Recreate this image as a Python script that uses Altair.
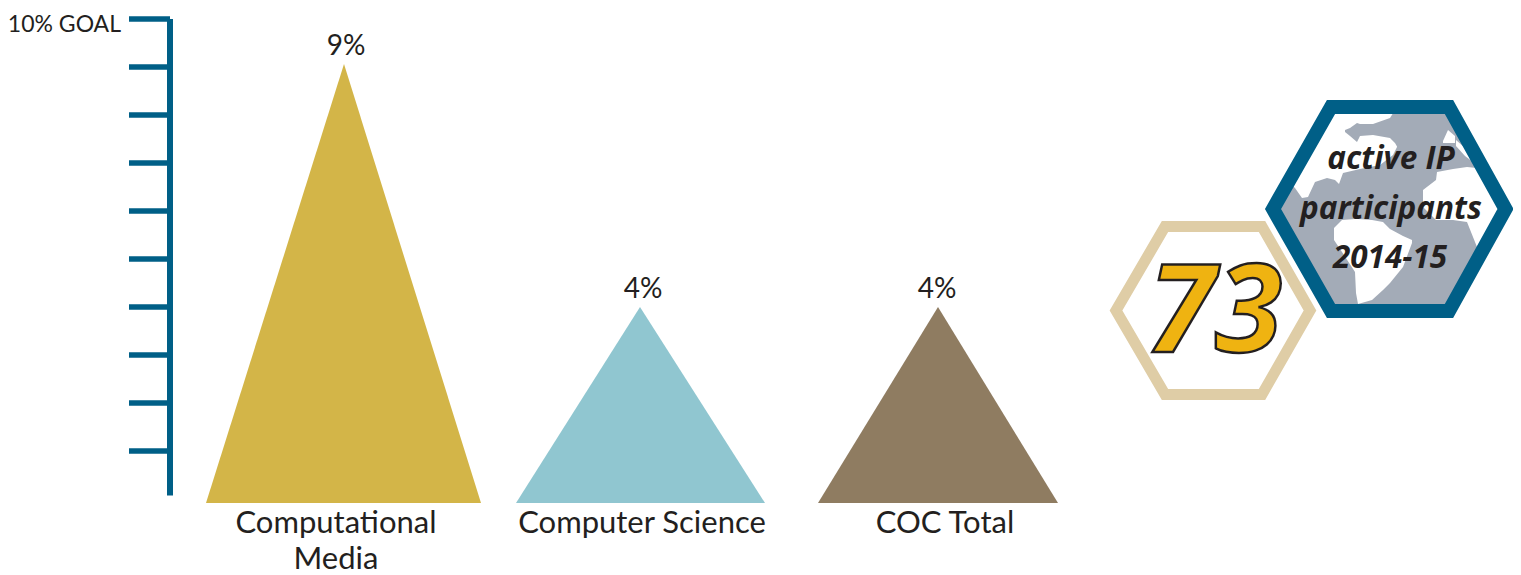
import altair as alt
import pandas as pd

W, H = 1505, 567
TOP, LEFT = 8, 8
FONT = "Lato"
HFONT = "Open Sans"
INK = "#231F20"

# ---- triangles
categories = ["Computational Media", "Computer Science", "COC Total"]
values = [9.06, 4.0, 4.0]
base_value = -0.083
tri_left = [206, 516, 818]
tri_mid = [344, 640, 938]
tri_right = [481, 765, 1058]
tri_colors = ["#D3B548", "#90C6D0", "#8F7C61"]
value_labels = ["9%", "4%", "4%"]
value_label_x = [346, 643, 937]

# ---- axis
tick_values = [1, 2, 3, 4, 5, 6, 7, 8, 9, 10]
axis_color = "#005F87"

# ---- text labels
cat_text = ["Computational", "Media", "Computer Science", "COC Total"]
cat_x = [336, 336, 642, 945]
cat_y = [533, 569, 533, 533]

# ---- badges (drawn on a second y scale in picture units)
blue_x = [1390, 1449, 1505.5, 1449, 1331, 1273, 1331, 1390]
blue_y = [107, 107, 209, 311, 311, 209, 107, 107]
tan_x = [1213, 1262, 1310, 1262, 1165, 1116, 1165, 1213]
tan_y = [226.5, 226.5, 310.5, 394.5, 394.5, 310.5, 226.5, 226.5]

sea_x = [1273, 1331, 1449, 1505.5]
sea_top = [209, 107, 107, 209]
sea_bot = [209, 311, 311, 209]

land = {
    "north_america": ([1289, 1295, 1302, 1308, 1315, 1327, 1335, 1339, 1343, 1360, 1380, 1393, 1397],
                      [180, 170, 158, 148, 135, 114, 110, 110, 110, 110, 110, 110, 110],
                      [182, 188, 198, 197, 182, 178, 180, 184, 173, 169, 165, 155, 147]),
    "south_america": ([1334, 1342, 1355, 1356, 1358, 1372, 1383, 1390, 1403, 1412],
                      [228, 220, 219, 219, 219, 220, 222, 229, 236, 240],
                      [240, 252, 272, 293, 304, 300, 290, 283, 267, 243]),
    "africa": ([1423, 1436, 1437, 1453, 1467, 1477, 1482, 1505],
               [190, 180, 172, 169, 167, 168, 171, 209],
               [207, 220, 220, 220, 222, 247, 250, 209]),
    "britain": ([1443, 1448, 1455],
                [141, 130, 136],
                [143, 143, 143]),
    "europe": ([1456, 1465, 1473],
               [140, 148, 161],
               [146, 156, 162]),
}
arctic_x = [1345, 1350, 1357, 1360, 1373, 1390, 1395, 1399]
arctic_top = [130, 128, 123, 124, 124, 118, 110, 110]
arctic_bot = [132, 136, 142, 136, 135, 138, 143, 150]

badge_text = ["active IP", "participants", "2014-15"]
badge_x = [1391, 1391, 1390]
badge_y = [169, 219, 268]
number_text = ["73"]
number_x = [1215]
number_y = [352]

x_scale = alt.Scale(domain=[LEFT, LEFT + W], range=[0, W], nice=False, zero=False)
pct_scale = alt.Scale(domain=[10 - (TOP + H - 19) / 48, 10 + (19 - TOP) / 48],
                      range=[H, 0], nice=False, zero=False)
px_scale = alt.Scale(domain=[TOP + H, TOP], range=[H, 0], nice=False, zero=False)

X = lambda f: alt.X(f, type="quantitative", scale=x_scale, axis=None)
Ypct = lambda f: alt.Y(f, type="quantitative", scale=pct_scale, axis=None, stack=None)
Ypx = lambda f: alt.Y(f, type="quantitative", scale=px_scale, axis=None, stack=None)

# triangles
tri_rows = []
for c, v, l, m, r in zip(categories, values, tri_left, tri_mid, tri_right):
    tri_rows += [
        {"cat": c, "x": l, "v": base_value, "b": base_value},
        {"cat": c, "x": m, "v": v, "b": base_value},
        {"cat": c, "x": r, "v": base_value, "b": base_value},
    ]
tri = alt.Chart(pd.DataFrame(tri_rows)).mark_area(interpolate="linear", line=False, opacity=1).encode(
    x=X("x"), y=Ypct("v"), y2="b:Q",
    color=alt.Color("cat:N", scale=alt.Scale(domain=categories, range=tri_colors), legend=None),
)
val_df = pd.DataFrame({"x": value_label_x, "v": values, "t": value_labels})
val_text = alt.Chart(val_df).mark_text(font=FONT, fontSize=28, color=INK, dy=-9, baseline="alphabetic", align="center").encode(
    x=X("x"), y=Ypct("v"), text="t:N")

ticks = alt.Chart(pd.DataFrame({"v": tick_values, "x1": [129] * 10, "x2": [170] * 10})).mark_rule(
    color=axis_color, strokeWidth=5.5).encode(x=X("x1"), x2="x2:Q", y=Ypct("v"))
spine = alt.Chart(pd.DataFrame({"x": [170], "v1": [10.0], "v2": [0.075]})).mark_rule(
    color=axis_color, strokeWidth=6).encode(x=X("x"), y=Ypct("v1"), y2="v2:Q")
goal = alt.Chart(pd.DataFrame({"x": [121], "v": [10.0], "t": ["10% GOAL"]})).mark_text(
    font=FONT, fontSize=23, color=INK, align="right", baseline="alphabetic", dy=13).encode(
    x=X("x"), y=Ypct("v"), text="t:N")

pct_layer = alt.layer(tri, ticks, spine, goal, val_text)

# picture-unit layers
cat_df = pd.DataFrame({"x": cat_x, "y": cat_y, "t": cat_text})
cat_marks = alt.Chart(cat_df).mark_text(font=FONT, fontSize=31, color=INK, align="center", baseline="alphabetic").encode(
    x=X("x"), y=Ypx("y"), text="t:N")

def band(xs, top, bot, color):
    d = pd.DataFrame({"x": xs, "t": top, "b": bot})
    return alt.Chart(d).mark_area(color=color, interpolate="linear", opacity=1).encode(
        x=X("x"), y=Ypx("t"), y2="b:Q")

def outline(xs, ys, color, width):
    d = pd.DataFrame({"x": xs, "y": ys, "o": list(range(len(xs)))})
    return alt.Chart(d).mark_line(color=color, strokeWidth=width, strokeJoin="miter", strokeCap="butt",
                                  interpolate="linear").encode(
        x=X("x"), y=Ypx("y"), order="o:Q")

layers = [cat_marks, band(sea_x, sea_top, sea_bot, "#A3ABB7")]
for name, (lx, lt, lb) in land.items():
    layers.append(band(lx, lt, lb, "#FFFFFF"))
layers.append(band(arctic_x, arctic_top, arctic_bot, "#A3ABB7"))
layers.append(outline(blue_x, blue_y, axis_color, 14))
layers.append(outline(tan_x, tan_y, "#DFCDA6", 11))
badge_df = pd.DataFrame({"x": badge_x, "y": badge_y, "t": badge_text})
layers.append(alt.Chart(badge_df).mark_text(font=HFONT, fontSize=31.5, fontWeight="bold", fontStyle="italic",
                                            color=INK, align="center", baseline="alphabetic").encode(
    x=X("x"), y=Ypx("y"), text="t:N"))
num_df = pd.DataFrame({"x": number_x, "y": number_y, "t": number_text})
layers.append(alt.Chart(num_df).mark_text(font=HFONT, fontSize=122, fontWeight="bold", fontStyle="italic",
                                          color="#EFB311", stroke=INK, strokeWidth=2.5, align="center",
                                          baseline="alphabetic").encode(
    x=X("x"), y=Ypx("y"), text="t:N"))
px_layer = alt.layer(*layers)

chart = alt.layer(pct_layer, px_layer).resolve_scale(y="independent", color="independent").properties(
    width=W, height=H, padding=0, background="white",
    autosize=alt.AutoSizeParams(type="none"),
).configure_view(stroke=None)

chart.save("out.html", embed_options={"renderer": "svg", "actions": False})
